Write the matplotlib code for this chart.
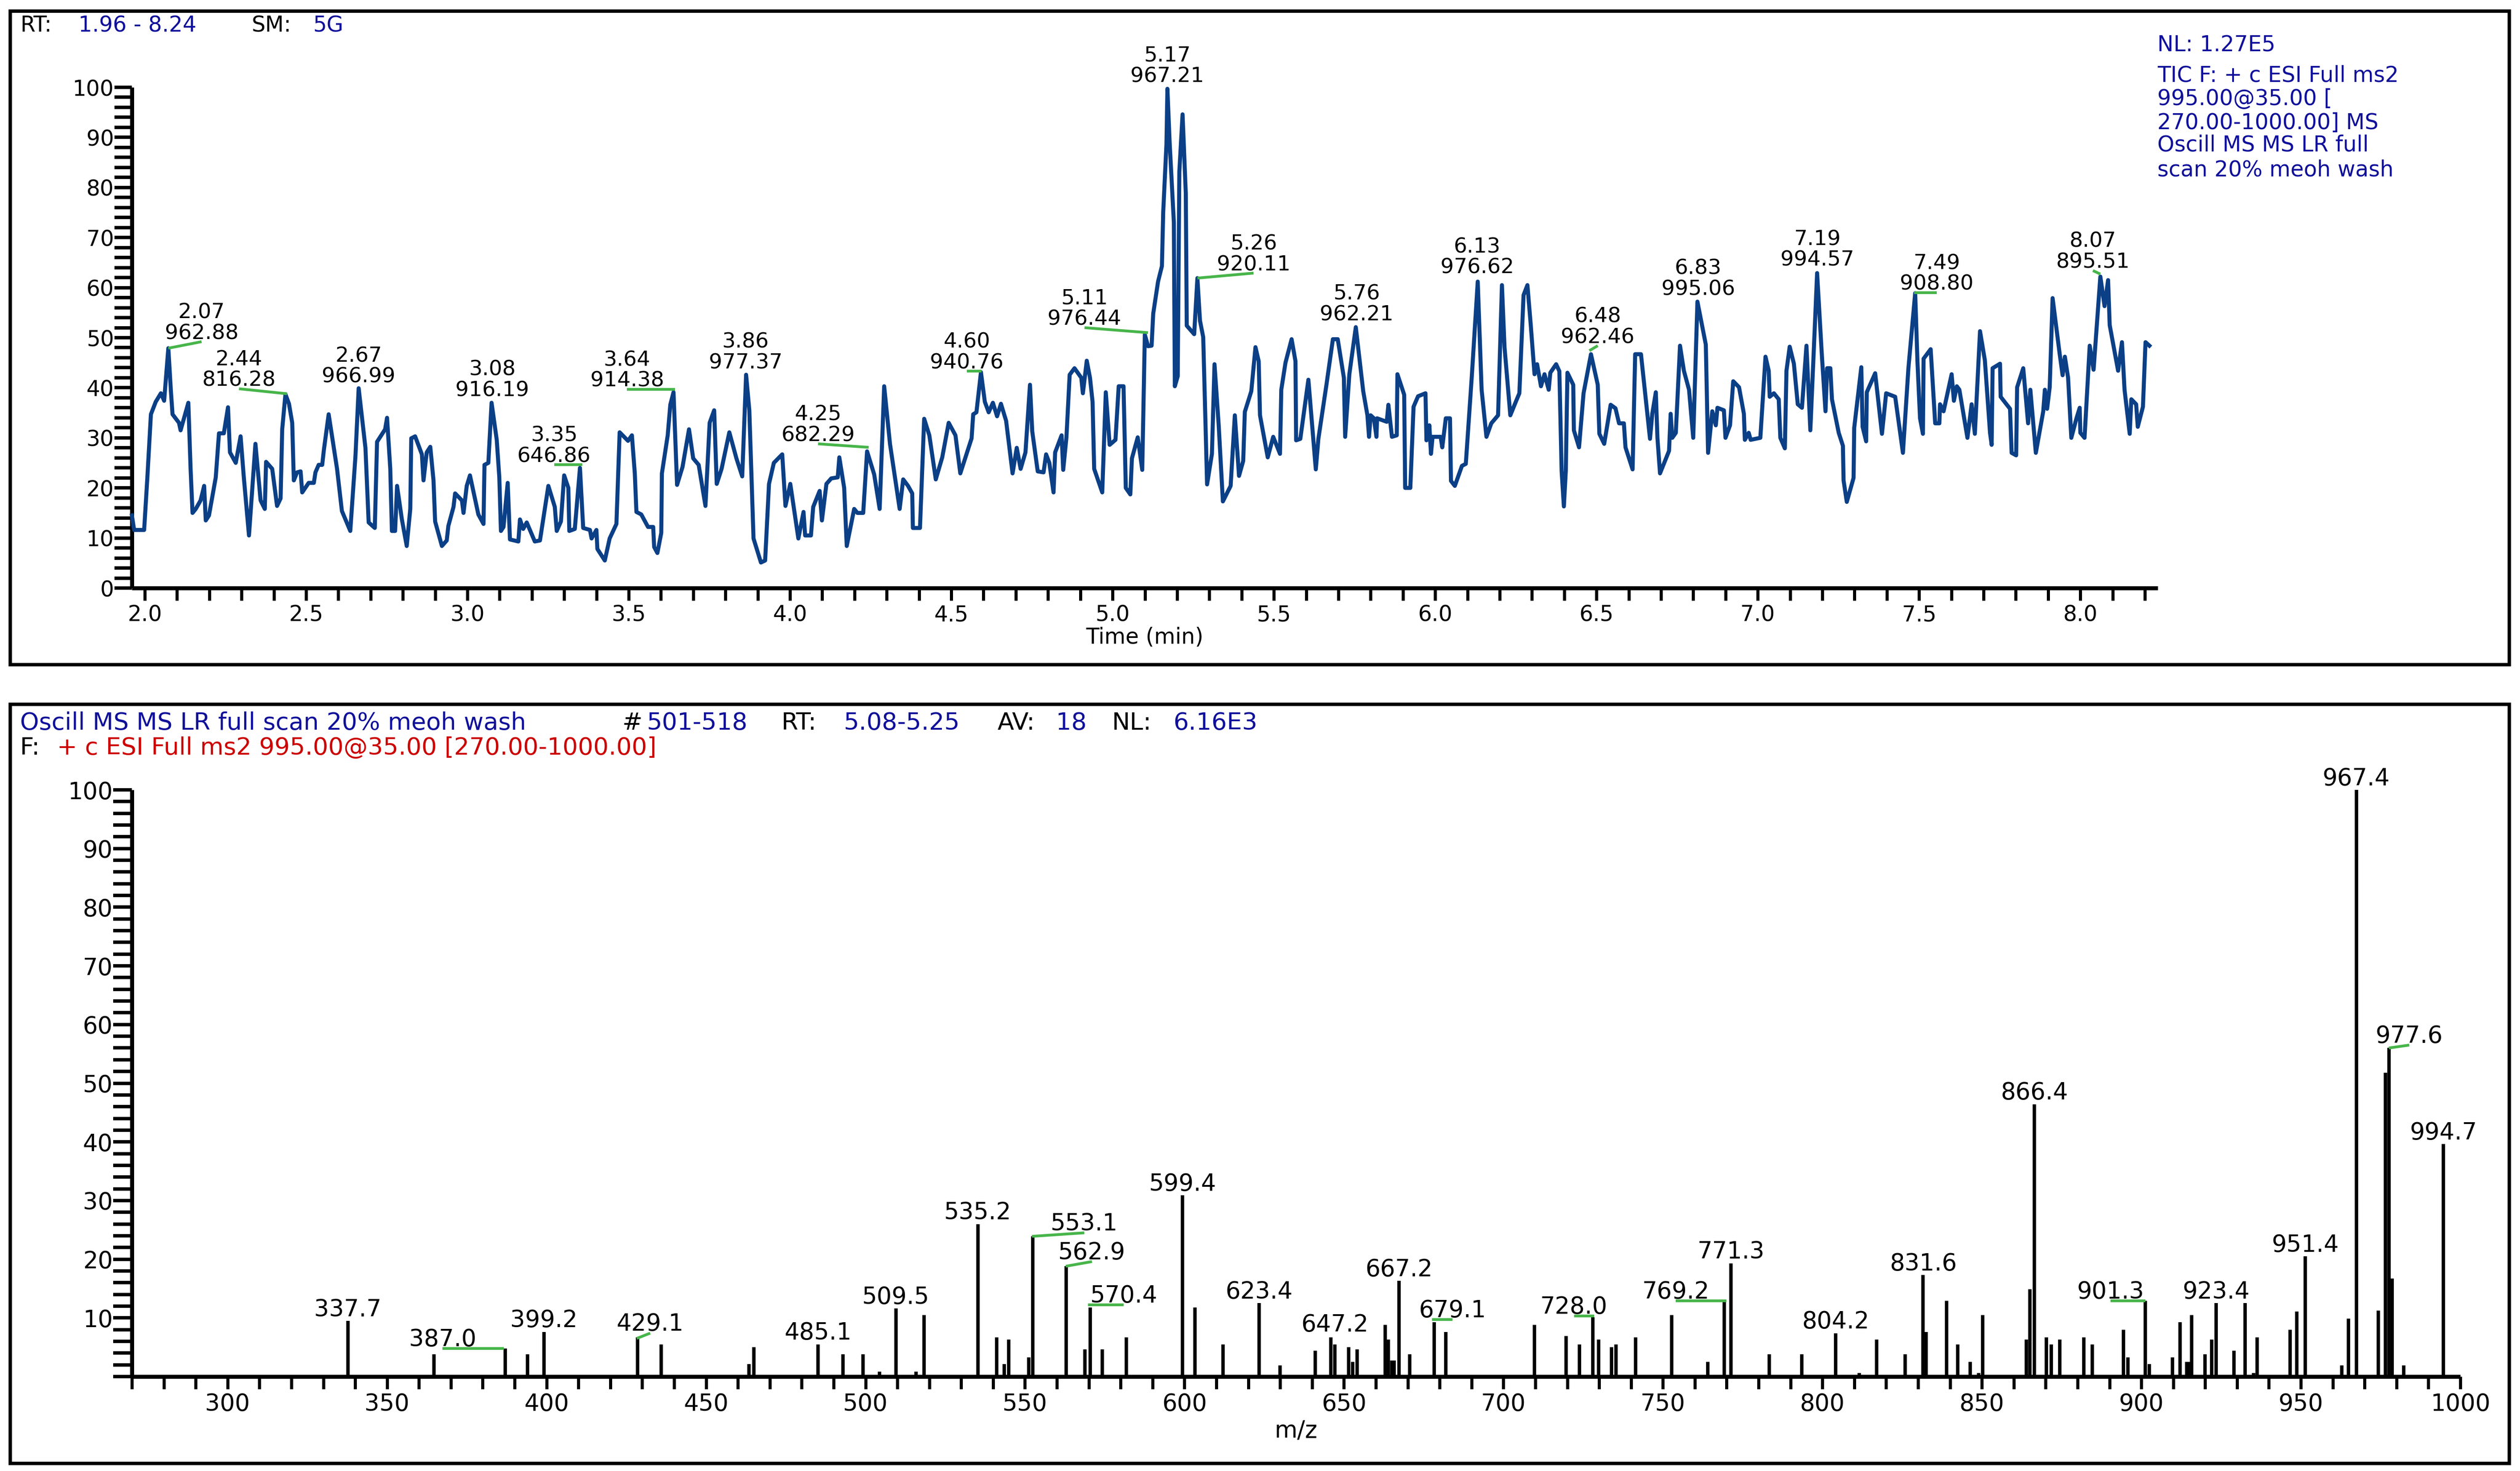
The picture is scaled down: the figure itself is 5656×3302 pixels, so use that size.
import matplotlib
matplotlib.use("Agg")
import matplotlib.pyplot as plt
from matplotlib.ticker import MultipleLocator, FuncFormatter
from matplotlib.patches import Rectangle

# ---------------- DATA ----------------
# Chromatogram (TIC), relative abundance vs retention time (min)
rt = [1.960, 1.967, 1.998, 2.008, 2.019, 2.034, 2.050, 2.060, 2.073, 2.081, 2.086, 2.106, 2.111, 2.135,
      2.142, 2.148, 2.158, 2.173, 2.184, 2.189, 2.199, 2.220, 2.230, 2.245, 2.258, 2.264, 2.282, 2.297,
      2.307, 2.323, 2.343, 2.359, 2.372, 2.376, 2.395, 2.410, 2.421, 2.426, 2.436, 2.447, 2.457, 2.462,
      2.472, 2.483, 2.488, 2.508, 2.524, 2.529, 2.539, 2.550, 2.555, 2.570, 2.596, 2.611, 2.637, 2.653,
      2.663, 2.684, 2.694, 2.713, 2.720, 2.745, 2.751, 2.761, 2.766, 2.776, 2.782, 2.797, 2.812, 2.823,
      2.826, 2.838, 2.859, 2.864, 2.874, 2.885, 2.895, 2.900, 2.921, 2.936, 2.941, 2.957, 2.962, 2.983,
      2.988, 2.998, 3.008, 3.034, 3.050, 3.053, 3.065, 3.075, 3.091, 3.099, 3.104, 3.112, 3.125, 3.132,
      3.158, 3.163, 3.173, 3.184, 3.209, 3.225, 3.251, 3.271, 3.277, 3.290, 3.300, 3.313, 3.316, 3.333,
      3.349, 3.359, 3.380, 3.385, 3.400, 3.403, 3.426, 3.441, 3.462, 3.472, 3.498, 3.510, 3.519, 3.524,
      3.539, 3.560, 3.576, 3.579, 3.589, 3.601, 3.603, 3.621, 3.629, 3.639, 3.650, 3.667, 3.687, 3.700,
      3.717, 3.738, 3.751, 3.765, 3.773, 3.788, 3.812, 3.834, 3.852, 3.864, 3.874, 3.887, 3.910, 3.923,
      3.935, 3.950, 3.976, 3.986, 4.001, 4.026, 4.042, 4.047, 4.065, 4.072, 4.092, 4.099, 4.113, 4.128,
      4.148, 4.153, 4.168, 4.176, 4.199, 4.209, 4.227, 4.239, 4.261, 4.278, 4.292, 4.310, 4.340, 4.351,
      4.366, 4.379, 4.381, 4.403, 4.416, 4.432, 4.452, 4.472, 4.492, 4.513, 4.528, 4.563, 4.568, 4.578,
      4.592, 4.604, 4.616, 4.629, 4.642, 4.654, 4.670, 4.690, 4.703, 4.715, 4.730, 4.744, 4.751, 4.768,
      4.786, 4.794, 4.804, 4.817, 4.822, 4.842, 4.847, 4.857, 4.867, 4.882, 4.903, 4.908, 4.920, 4.930,
      4.938, 4.943, 4.968, 4.979, 4.991, 5.009, 5.019, 5.034, 5.041, 5.055, 5.060, 5.078, 5.092, 5.100,
      5.110, 5.121, 5.126, 5.141, 5.153, 5.157, 5.167, 5.170, 5.177, 5.190, 5.193, 5.202, 5.207, 5.217,
      5.227, 5.230, 5.253, 5.263, 5.271, 5.281, 5.293, 5.308, 5.316, 5.329, 5.342, 5.366, 5.379, 5.392,
      5.405, 5.410, 5.430, 5.443, 5.453, 5.457, 5.481, 5.498, 5.519, 5.523, 5.536, 5.555, 5.567, 5.569,
      5.582, 5.607, 5.630, 5.638, 5.663, 5.683, 5.698, 5.717, 5.721, 5.734, 5.754, 5.777, 5.790, 5.795,
      5.800, 5.810, 5.818, 5.820, 5.850, 5.855, 5.866, 5.881, 5.883, 5.904, 5.907, 5.923, 5.933, 5.947,
      5.970, 5.973, 5.982, 5.987, 5.992, 6.017, 6.022, 6.033, 6.046, 6.049, 6.061, 6.083, 6.095, 6.114,
      6.132, 6.144, 6.159, 6.174, 6.195, 6.207, 6.215, 6.233, 6.250, 6.261, 6.274, 6.286, 6.296, 6.308,
      6.316, 6.328, 6.339, 6.352, 6.357, 6.375, 6.385, 6.392, 6.399, 6.405, 6.410, 6.428, 6.430, 6.446,
      6.460, 6.483, 6.504, 6.509, 6.524, 6.544, 6.559, 6.570, 6.585, 6.590, 6.612, 6.620, 6.638, 6.666,
      6.673, 6.684, 6.689, 6.697, 6.725, 6.730, 6.735, 6.746, 6.759, 6.771, 6.787, 6.800, 6.813, 6.823,
      6.839, 6.846, 6.859, 6.870, 6.875, 6.895, 6.900, 6.914, 6.924, 6.942, 6.957, 6.960, 6.972, 6.978,
      7.008, 7.024, 7.034, 7.037, 7.050, 7.065, 7.070, 7.084, 7.089, 7.099, 7.112, 7.124, 7.137, 7.151,
      7.163, 7.184, 7.199, 7.210, 7.215, 7.225, 7.230, 7.251, 7.264, 7.266, 7.276, 7.297, 7.299, 7.321,
      7.325, 7.336, 7.338, 7.364, 7.385, 7.398, 7.426, 7.450, 7.467, 7.488, 7.495, 7.503, 7.512, 7.514,
      7.536, 7.550, 7.563, 7.565, 7.576, 7.601, 7.608, 7.617, 7.625, 7.650, 7.663, 7.673, 7.689, 7.704,
      7.720, 7.725, 7.728, 7.751, 7.753, 7.771, 7.782, 7.787, 7.801, 7.804, 7.823, 7.838, 7.845, 7.862,
      7.885, 7.890, 7.897, 7.905, 7.914, 7.936, 7.945, 7.952, 7.962, 7.972, 7.988, 7.998, 8.000, 8.013,
      8.029, 8.041, 8.062, 8.075, 8.086, 8.091, 8.117, 8.129, 8.137, 8.153, 8.158, 8.173, 8.178, 8.194,
      8.202, 8.214]
tic = [14.5, 11.6, 11.6, 22.1, 34.7, 37.2, 38.9, 37.4, 47.9, 39.3, 34.7, 33.0, 31.5, 37.0,
       23.8, 15.0, 15.8, 17.5, 20.4, 13.5, 14.5, 22.1, 30.9, 30.9, 36.1, 27.1, 25.0, 30.3,
       22.1, 10.5, 28.8, 17.5, 15.8, 25.2, 23.8, 16.4, 17.9, 31.7, 38.7, 36.8, 33.0, 21.5,
       23.1, 23.3, 19.1, 21.0, 21.0, 23.1, 24.6, 24.6, 27.5, 34.7, 23.8, 15.4, 11.4, 26.3,
       39.9, 28.0, 13.1, 12.0, 29.2, 31.7, 34.0, 23.8, 11.4, 11.4, 20.4, 13.7, 8.4, 15.8,
       29.9, 30.3, 26.7, 21.5, 27.1, 28.2, 21.5, 13.3, 8.4, 9.5, 12.4, 16.2, 18.9, 17.5,
       15.0, 20.4, 22.5, 14.7, 12.8, 24.6, 25.0, 37.0, 29.6, 22.1, 11.4, 12.2, 21.0, 9.7,
       9.3, 13.7, 11.8, 13.1, 9.3, 9.5, 20.4, 16.2, 11.4, 13.3, 22.5, 20.0, 11.4, 11.8,
       24.0, 12.0, 11.6, 9.9, 11.6, 7.8, 5.5, 9.9, 12.8, 31.1, 29.4, 30.5, 22.9, 15.2,
       14.7, 12.2, 12.2, 8.2, 7.0, 11.0, 22.9, 30.5, 36.6, 39.1, 20.6, 24.2, 31.7, 25.9,
       24.6, 16.4, 33.0, 35.5, 20.8, 23.8, 31.1, 25.9, 22.3, 42.6, 35.5, 9.9, 5.1, 5.5,
       20.8, 25.0, 26.7, 16.4, 20.8, 9.9, 15.2, 10.5, 10.5, 16.2, 19.4, 13.5, 20.8, 21.9,
       22.1, 26.1, 20.0, 8.4, 15.8, 15.0, 15.0, 27.3, 22.7, 15.8, 40.3, 28.8, 15.8, 21.7,
       20.4, 18.9, 12.0, 12.0, 33.8, 30.5, 21.7, 26.1, 33.0, 30.5, 22.9, 29.9, 34.7, 35.1,
       43.1, 37.2, 35.1, 37.0, 34.3, 36.8, 33.4, 22.9, 28.0, 23.8, 27.1, 40.6, 31.3, 23.3,
       23.1, 26.7, 25.0, 19.1, 27.1, 30.5, 23.6, 30.1, 42.6, 43.9, 42.0, 38.9, 45.4, 42.0,
       37.2, 23.8, 19.1, 39.1, 28.6, 29.6, 40.3, 40.3, 20.0, 18.7, 25.9, 30.1, 23.6, 50.6,
       48.3, 48.4, 54.8, 61.2, 64.3, 75.1, 88.6, 99.7, 88.9, 73.0, 40.3, 42.3, 83.2, 94.6,
       78.8, 52.4, 50.7, 61.9, 53.4, 50.1, 20.7, 26.8, 44.7, 32.5, 17.3, 20.4, 34.5, 22.4,
       25.4, 35.2, 39.3, 48.1, 45.3, 34.5, 26.1, 30.2, 26.8, 39.6, 45.0, 49.7, 45.3, 29.5,
       29.8, 41.6, 23.7, 29.8, 40.6, 49.7, 49.7, 42.0, 30.2, 42.7, 52.1, 39.3, 34.5, 30.2,
       34.5, 33.9, 30.2, 33.9, 33.2, 36.6, 30.2, 30.5, 42.7, 38.6, 20.0, 20.0, 36.2, 38.3,
       38.9, 29.5, 32.5, 26.8, 30.2, 30.2, 28.1, 33.9, 33.9, 21.4, 20.4, 24.4, 24.8, 42.7,
       61.2, 39.6, 30.2, 32.9, 34.5, 60.5, 48.1, 34.5, 37.2, 38.9, 58.5, 60.5, 52.8, 42.7,
       44.7, 40.3, 42.7, 39.6, 43.0, 44.7, 43.3, 23.4, 16.3, 23.4, 43.0, 40.6, 31.5, 28.1,
       38.9, 46.7, 40.6, 30.8, 28.8, 36.6, 35.9, 32.9, 32.9, 28.1, 23.7, 46.7, 46.7, 29.8,
       34.8, 39.1, 30.0, 22.9, 27.4, 34.8, 30.0, 31.0, 48.4, 43.4, 39.6, 30.0, 57.2, 53.9,
       48.6, 27.0, 35.3, 32.5, 36.0, 35.5, 30.0, 32.5, 41.3, 40.1, 34.8, 29.6, 31.0, 29.6,
       30.0, 46.2, 43.4, 38.2, 38.9, 37.7, 30.0, 27.9, 43.4, 48.2, 44.8, 36.7, 36.0, 48.4,
       31.5, 62.9, 46.2, 35.3, 43.9, 43.9, 37.7, 31.0, 28.4, 21.5, 17.2, 22.0, 32.0, 44.1,
       32.2, 29.3, 39.1, 42.9, 30.8, 38.9, 38.2, 27.0, 43.9, 58.9, 45.3, 33.9, 30.8, 45.8,
       47.7, 32.9, 32.9, 36.7, 35.3, 42.7, 37.4, 40.3, 39.6, 30.0, 36.7, 30.8, 51.3, 45.5,
       31.0, 28.6, 43.9, 44.8, 38.2, 36.7, 35.8, 27.0, 26.5, 40.1, 43.9, 32.9, 39.6, 27.0,
       35.3, 39.6, 35.8, 40.1, 57.9, 46.7, 42.5, 46.2, 42.0, 30.0, 33.9, 36.0, 31.0, 30.0,
       48.4, 43.6, 62.2, 56.3, 61.5, 52.5, 43.4, 49.1, 39.6, 30.8, 37.7, 36.7, 32.2, 36.2,
       49.1, 48.4]

# Peak labels of the chromatogram: retention time / base peak m/z
tic_label_rt = ["2.07", "2.44", "2.67", "3.08", "3.35", "3.64", "3.86", "4.25", "4.60", "5.11",
                "5.17", "5.26", "5.76", "6.13", "6.48", "6.83", "7.19", "7.49", "8.07"]
tic_label_mz = ["962.88", "816.28", "966.99", "916.19", "646.86", "914.38", "977.37", "682.29",
                "940.76", "976.44", "967.21", "920.11", "962.21", "976.62", "962.46", "995.06",
                "994.57", "908.80", "895.51"]
tic_label_peak_rt = [2.073, 2.441, 2.663, 3.075, 3.356, 3.643, 3.864, 4.244, 4.594, 5.110,
                     5.170, 5.263, 5.754, 6.132, 6.478, 6.813, 7.184, 7.485, 8.062]
tic_label_peak_int = [47.9, 38.8, 39.9, 37.0, 24.6, 39.7, 42.6, 28.1, 43.3, 51.0,
                      99.7, 61.9, 52.1, 61.2, 47.4, 57.2, 62.9, 59.0, 62.7]

# MS2 spectrum: m/z and relative abundance
mz = [337.7, 364.7, 387.0, 394.1, 399.2, 428.6, 436.0, 463.5, 465.0, 485.1, 493.0, 499.2, 504.4,
      509.5, 515.8, 518.3, 535.2, 541.2, 543.5, 544.9, 551.2, 552.5, 562.9, 568.8, 570.4, 574.3,
      581.8, 599.4, 603.3, 612.1, 623.4, 630.0, 641.0, 645.9, 647.2, 651.5, 652.7, 654.1, 662.9,
      663.9, 665.0, 665.8, 667.2, 670.6, 678.3, 682.0, 709.7, 719.7, 723.8, 728.0, 729.9, 733.9,
      735.3, 741.5, 752.7, 764.1, 769.2, 771.3, 783.4, 793.6, 804.2, 811.5, 817.0, 826.0, 831.6,
      832.5, 838.9, 842.5, 846.4, 849.0, 850.3, 863.9, 865.0, 866.4, 870.3, 871.8, 874.4, 882.0,
      884.6, 894.4, 895.8, 901.3, 902.5, 909.7, 912.1, 914.2, 914.8, 915.8, 919.9, 922.1, 923.4,
      929.0, 932.6, 935.2, 936.3, 946.7, 948.7, 951.4, 962.8, 965.0, 967.4, 974.3, 976.6, 977.6,
      978.6, 982.2, 994.7]
intensity = [9.5, 3.8, 4.8, 3.8, 7.6, 6.7, 5.5, 2.1, 5.0, 5.5, 3.8, 3.8, 0.8,
             11.6, 0.8, 10.5, 26.0, 6.7, 2.1, 6.3, 3.3, 23.9, 18.8, 4.6, 11.8, 4.6,
             6.7, 30.9, 11.8, 5.5, 12.5, 1.9, 4.4, 6.7, 5.5, 5.0, 2.5, 4.6, 8.8,
             6.3, 2.7, 2.7, 16.3, 3.8, 9.3, 7.6, 8.8, 6.9, 5.5, 10.1, 6.3, 5.0,
             5.5, 6.7, 10.5, 2.5, 12.7, 19.3, 3.8, 3.8, 7.4, 0.6, 6.3, 3.8, 17.3,
             7.6, 12.9, 5.5, 2.5, 0.6, 10.5, 6.3, 14.9, 46.4, 6.7, 5.5, 6.3, 6.7,
             5.5, 8.0, 3.3, 12.9, 2.1, 3.3, 9.3, 2.5, 2.5, 10.5, 3.8, 6.3, 12.5,
             4.4, 12.5, 0.6, 6.7, 8.0, 11.1, 20.5, 1.9, 9.9, 100.0, 11.2, 51.8, 56.0,
             16.7, 1.9, 39.6]

# Labelled spectrum peaks
ms_label = ["337.7", "387.0", "399.2", "429.1", "485.1", "509.5", "535.2", "553.1", "562.9",
            "570.4", "599.4", "623.4", "647.2", "667.2", "679.1", "728.0", "769.2", "771.3",
            "804.2", "831.6", "866.4", "901.3", "923.4", "951.4", "967.4", "977.6", "994.7"]
ms_label_peak_mz = [337.7, 386.6, 399.2, 428.3, 485.1, 509.5, 535.2, 552.2, 562.8,
                    569.8, 599.4, 623.4, 647.2, 667.2, 677.6, 728.5, 770.0, 771.3,
                    804.2, 831.6, 866.4, 901.3, 923.4, 951.4, 967.4, 977.6, 994.7]
ms_label_peak_int = [9.5, 4.8, 7.6, 6.5, 5.5, 11.6, 26.0, 23.9, 18.8,
                     12.2, 30.9, 12.5, 6.9, 16.3, 9.7, 10.3, 12.9, 19.3,
                     7.4, 17.3, 46.4, 12.9, 12.5, 20.5, 100.0, 56.0, 39.6]

# ---------------- LAYOUT (label placement, in data units) ----------------
tic_label_pos_rt = [2.176, 2.292, 2.663, 3.077, 3.269, 3.495, 3.862, 4.087, 4.548, 4.913,
                    5.170, 5.437, 5.756, 6.130, 6.504, 6.815, 7.184, 7.555, 8.039]
tic_label_pos_int = [49.2, 39.8, 41.0, 38.3, 24.6, 39.7, 43.8, 28.8, 43.3, 52.0,
                     101.0, 62.9, 53.4, 62.8, 48.4, 58.5, 64.3, 59.0, 63.4]
tic_leader = [True, True, False, False, True, True, False, True, True, True,
              False, True, False, False, True, False, False, True, True]

ms_label_pos_mz = [337.7, 367.4, 399.2, 432.5, 485.1, 509.5, 535.2, 568.6, 571.0,
                   581.0, 599.4, 623.4, 647.2, 667.2, 684.0, 722.1, 754.0, 771.3,
                   804.2, 831.6, 866.4, 890.3, 923.4, 951.4, 967.4, 984.0, 994.7]
ms_label_pos_int = [10.3, 4.8, 8.4, 7.4, 6.3, 12.4, 26.8, 24.5, 19.6,
                    12.2, 31.7, 13.3, 7.7, 17.1, 9.7, 10.3, 12.9, 20.1,
                    8.2, 18.1, 47.2, 12.9, 13.3, 21.3, 100.8, 56.5, 40.4]
ms_leader = [False, True, False, True, False, False, False, True, True,
             True, False, False, False, False, True, True, True, False,
             False, False, False, True, False, False, False, True, False]

# ---------------- STYLE ----------------
plt.rcParams['font.family'] = ['DejaVu Sans']
W, H, DPI = 5656, 3302, 100
TRACE = '#0b3f86'
GREEN = '#47b54a'
BLUE = '#10109a'
RED = '#cc0000'
FS_TOP_LBL = 34
FS_TOP_TICK = 35
FS_TOP_HDR = 35
FS_BOT = 38
FS_BOT_HDR = 39

fig = plt.figure(figsize=(W / DPI, H / DPI), dpi=DPI)
fig.patch.set_facecolor('white')


def fx(px):
    return px / W


def fy(py):
    return 1 - py / H


# panel frames
for (x0, y0, x1, y1) in [(23, 25, 5632, 1492), (23, 1581, 5632, 3285)]:
    fig.patches.append(Rectangle((fx(x0), fy(y1)), fx(x1) - fx(x0), fy(y0) - fy(y1),
                                 transform=fig.transFigure, fill=False,
                                 edgecolor='black', linewidth=5.5))


def style_axes(ax, fs, ylen, xlen):
    for s in ['top', 'right']:
        ax.spines[s].set_visible(False)
    for s in ['left', 'bottom']:
        ax.spines[s].set_linewidth(6.5)
        ax.spines[s].set_capstyle('butt')
    ax.tick_params(axis='y', which='both', direction='out', length=ylen, width=5.5,
                   labelsize=fs, pad=1)
    ax.tick_params(axis='x', which='both', direction='out', length=xlen, width=5,
                   labelsize=fs, pad=6)
    ax.set_facecolor('none')


# ---------------- TOP: chromatogram ----------------
ax1 = fig.add_axes([fx(296), fy(1320), fx(4843) - fx(296), fy(196) - fy(1320)])
ax1.set_xlim(1.96, 8.24)
ax1.set_ylim(0, 100)
ax1.plot(rt, tic, color=TRACE, linewidth=6.5, solid_joinstyle='round', clip_on=False, zorder=3)
ax1.xaxis.set_major_locator(MultipleLocator(0.5))
ax1.xaxis.set_minor_locator(MultipleLocator(0.1))
ax1.yaxis.set_major_locator(MultipleLocator(10))
ax1.yaxis.set_minor_locator(MultipleLocator(2))
style_axes(ax1, FS_TOP_TICK, 28, 20)
ax1.set_xlabel('Time (min)', fontsize=FS_TOP_TICK)
ax1.xaxis.set_label_coords(0.5, -0.098)
ax1.xaxis.label.set_va('center')

for i in range(len(tic_label_rt)):
    if tic_leader[i]:
        ax1.plot([tic_label_peak_rt[i], tic_label_pos_rt[i]],
                 [tic_label_peak_int[i], tic_label_pos_int[i]],
                 color=GREEN, linewidth=4.5, solid_capstyle='butt', clip_on=False, zorder=4)
        ly = tic_label_pos_int[i] + 0.5
    else:
        ly = tic_label_pos_int[i]
    ax1.annotate(tic_label_rt[i] + "\n" + tic_label_mz[i],
                 xy=(tic_label_pos_rt[i], ly), xytext=(0, -7), textcoords='offset points',
                 ha='center', va='bottom', fontsize=FS_TOP_LBL, linespacing=1.05,
                 annotation_clip=False, zorder=5)

# ---------------- BOTTOM: spectrum ----------------
ax2 = fig.add_axes([fx(296), fy(3090), fx(5522) - fx(296), fy(1773) - fy(3090)])
ax2.set_xlim(270, 1000)
ax2.set_ylim(0, 100)
ax2.vlines(mz, 0, intensity, colors='black', linewidth=5.5, clip_on=False, zorder=3)
ax2.xaxis.set_major_locator(MultipleLocator(50))
ax2.xaxis.set_minor_locator(MultipleLocator(10))
ax2.yaxis.set_major_locator(MultipleLocator(10))
ax2.yaxis.set_minor_locator(MultipleLocator(2))
ax2.yaxis.set_major_formatter(FuncFormatter(lambda v, p: '' if abs(v) < 1e-9 else f'{v:.0f}'))
style_axes(ax2, FS_BOT, 30, 20)
ax2.set_xlabel('m/z', fontsize=FS_BOT)
ax2.xaxis.set_label_coords(0.5, -0.093)
ax2.xaxis.label.set_va('center')

for i in range(len(ms_label)):
    if ms_leader[i]:
        ax2.plot([ms_label_peak_mz[i], ms_label_pos_mz[i]],
                 [ms_label_peak_int[i], ms_label_pos_int[i]],
                 color=GREEN, linewidth=4.5, solid_capstyle='butt', clip_on=False, zorder=4)
        ly = ms_label_pos_int[i] + 0.4
    else:
        ly = ms_label_pos_int[i]
    ax2.annotate(ms_label[i], xy=(ms_label_pos_mz[i], ly), xytext=(0, -8),
                 textcoords='offset points', ha='center', va='bottom', fontsize=FS_BOT,
                 annotation_clip=False, zorder=5)

# ---------------- HEADER TEXTS ----------------
def ftext(px, py, s, color='black', fs=FS_TOP_HDR):
    fig.text(fx(px), fy(py), s, color=color, fontsize=fs, ha='left', va='center')


# top panel header
ftext(45, 57, 'RT:')
ftext(176, 57, '1.96 - 8.24', BLUE)
ftext(565, 57, 'SM:')
ftext(702, 57, '5G', BLUE)

# top right block
right_lines = [(102, 'NL: 1.27E5'), (170, 'TIC F: + c ESI Full ms2'),
               (222, '995.00@35.00 ['), (276, '270.00-1000.00] MS'),
               (326, 'Oscill MS MS LR full'), (381, 'scan 20% meoh wash')]
for py, s in right_lines:
    ftext(4842, py, s, BLUE)

# bottom panel header
ftext(45, 1623, 'Oscill MS MS LR full scan 20% meoh wash', BLUE, FS_BOT_HDR)
ftext(1397, 1623, '#', 'black', FS_BOT_HDR)
ftext(1452, 1623, '501-518', BLUE, FS_BOT_HDR)
ftext(1754, 1623, 'RT:', 'black', FS_BOT_HDR)
ftext(1894, 1623, '5.08-5.25', BLUE, FS_BOT_HDR)
ftext(2239, 1623, 'AV:', 'black', FS_BOT_HDR)
ftext(2370, 1623, '18', BLUE, FS_BOT_HDR)
ftext(2496, 1623, 'NL:', 'black', FS_BOT_HDR)
ftext(2633, 1623, '6.16E3', BLUE, FS_BOT_HDR)
ftext(45, 1679, 'F:', 'black', FS_BOT_HDR)
ftext(128, 1679, '+ c ESI Full ms2 995.00@35.00 [270.00-1000.00]', RED, FS_BOT_HDR)

fig.savefig('out.png', dpi=DPI, facecolor='white')
